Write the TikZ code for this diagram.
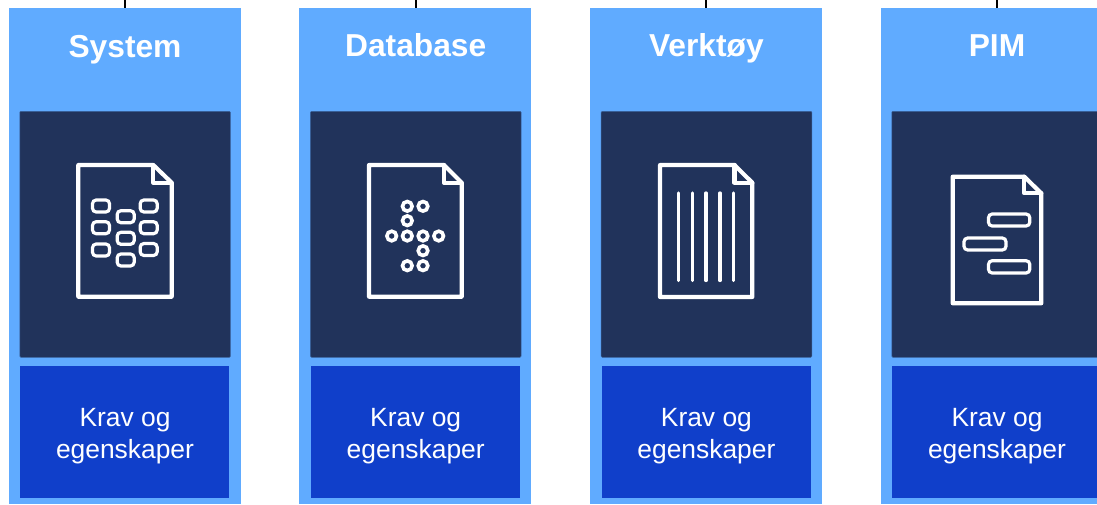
\documentclass[tikz,border=0pt]{standalone}
\usepackage{fontspec}
\setmainfont{Liberation Sans}
\definecolor{colbg}{HTML}{60ABFF}
\definecolor{darkbox}{HTML}{21335B}
\definecolor{darkedge}{HTML}{3A6199}
\definecolor{reqbox}{HTML}{103FCA}
\tikzset{
  colbox/.style={fill=colbg,draw=none,minimum width=174pt,minimum height=372pt,anchor=north west,inner sep=0pt},
  iconbox/.style={fill=darkbox,draw=darkedge,line width=0.4pt,rounded corners=0.8pt,minimum width=158pt,minimum height=184.5pt,anchor=north west,inner sep=0pt},
  reqstyle/.style={fill=reqbox,draw=none,minimum width=156.75pt,minimum height=99pt,anchor=north west,inner sep=0pt},
  titletext/.style={text=white,font=\fontsize{23.8}{28}\selectfont\bfseries,anchor=base,inner sep=0pt},
  reqtext/.style={text=white,font=\fontsize{19.8}{23.6}\selectfont,align=center,anchor=center,inner sep=0pt},
  tick/.style={draw=black,line width=1.6pt},
  docline/.style={draw=white,line width=3.1pt,line join=round,line cap=round},
  thinline/.style={draw=white,line width=2.5pt,line join=round,line cap=round},
  cell/.style={draw=white,line width=2.4pt,rounded corners=2.8pt},
  ring/.style={draw=white,line width=2.7pt},
}
\newcommand{\docshape}[6]{% left right top bottom foldx foldy
  \draw[docline] (#1,#3) -- (#5,#3) -- (#2,#6) -- (#2,#4) -- (#1,#4) -- cycle;
  \draw[docline] (#5,#3) -- (#5,#6) -- (#2,#6);
}
\begin{document}
\begin{tikzpicture}[x=0.75pt,y=-0.75pt]
\useasboundingbox (0,0) rectangle (1097,504);
\clip (0,0) rectangle (1097,504);
\foreach \n/\xo/\mid/\ttl/\by in {a/9/125/System/57,b/299/415.7/Database/56,c/590/706.4/Verktøy/56,d/881/997/PIM/56}{
  \node[colbox] (col\n) at (\xo,8) {};
  \node[iconbox] (icon\n) at (\mid-105.5,111) {};
  \node[reqstyle] (req\n) at (\mid-105,366) {};
  \node[titletext] (title\n) at (\mid,\by) {\ttl};
  \node[reqtext] (text\n) at (\mid,436) {Krav og\\egenskaper};
  \coordinate (top\n) at (\mid,0);
  \draw[tick] (top\n) -- (col\n.north -| top\n);
}
% System icon
\docshape{78.3}{171.7}{165}{296.7}{153.3}{182.7}
\foreach \cx/\cy in {101/206,101/227.7,101/250,125.7/216.7,125.7/238.3,125.7/260,148.7/206,148.7/227.7,148.7/249.5}
  \draw[cell] (\cx-8.5,\cy-6) rectangle (\cx+8.5,\cy+6);
% Database icon
\docshape{369}{461.7}{165}{296.7}{444}{182.7}
\foreach \cx/\cy in {407.3/206.3,423/206.3,407.3/220.7,391.7/236,407.3/236,423/236,438.7/236,423/250.7,407.3/265.7,423/265.7}
  \draw[ring] (\cx,\cy) circle (4.8);
% Verktoy icon
\docshape{660}{752.3}{165}{297}{734.5}{182.7}
\foreach \lx in {678.7,692.3,706,720,733.7}
  \draw[thinline] (\lx,193) -- (\lx,280.5);
% PIM icon
\docshape{952.7}{1041.3}{176.7}{303.3}{1024.3}{193.3}
\draw[cell] (988.5,214) rectangle (1029.8,226);
\draw[cell] (964,238) rectangle (1006,250);
\draw[cell] (988.5,260.7) rectangle (1029.8,273);
\end{tikzpicture}
\end{document}
